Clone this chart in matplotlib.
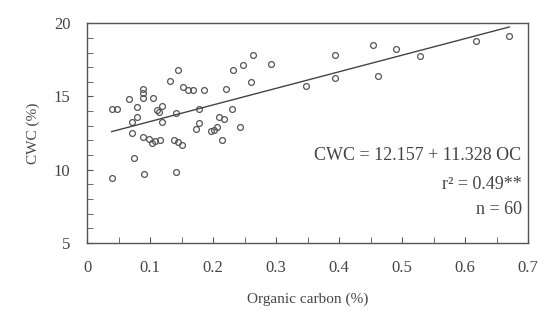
import numpy as np
import matplotlib
matplotlib.use("Agg")
import matplotlib.pyplot as plt
from matplotlib.ticker import MultipleLocator

# organic carbon (%) and CWC (%)
organic_carbon = [
    0.039, 0.048, 0.039, 0.067, 0.080, 0.080, 0.071, 0.071, 0.088, 0.088,
    0.088, 0.104, 0.089, 0.074, 0.091, 0.111, 0.119, 0.114, 0.119, 0.103,
    0.108, 0.115, 0.132, 0.144, 0.141, 0.138, 0.145, 0.151, 0.141, 0.153,
    0.168, 0.186, 0.177, 0.178, 0.173, 0.196, 0.206, 0.210, 0.218, 0.214,
    0.221, 0.230, 0.243, 0.232, 0.247, 0.263, 0.260, 0.292, 0.348, 0.393,
    0.393, 0.454, 0.462, 0.490, 0.528, 0.617, 0.670, 0.099, 0.160, 0.201,
]
cwc = [
    14.14, 14.14, 9.42, 14.84, 14.28, 13.63, 13.25, 12.50, 15.51, 15.23,
    14.89, 14.89, 12.22, 10.79, 9.72, 14.09, 14.32, 13.95, 13.25, 11.81,
    11.99, 12.04, 16.07, 16.82, 13.87, 12.04, 11.86, 11.70, 9.87, 15.68,
    15.41, 15.41, 14.16, 13.22, 12.77, 12.61, 12.91, 13.63, 13.46, 12.04,
    15.53, 14.16, 12.91, 16.82, 17.17, 17.80, 15.96, 17.19, 15.73, 17.85,
    16.26, 18.53, 16.37, 18.26, 17.73, 18.81, 19.10, 12.10, 15.45, 12.70,
]

x_ticks = [0, 0.1, 0.2, 0.3, 0.4, 0.5, 0.6, 0.7]
x_tick_labels = ["0", "0.1", "0.2", "0.3", "0.4", "0.5", "0.6", "0.7"]
y_ticks = [5, 10, 15, 20]

intercept = 12.157
slope = 11.328

plt.rcParams["font.family"] = ["Liberation Serif", "DejaVu Serif"]

fig = plt.figure(figsize=(5.44, 3.23), dpi=100)
ax = fig.add_axes([0.16, 0.248, 0.811, 0.68])

ax.plot(organic_carbon, cwc, linestyle="none", marker="o", markersize=4.2,
        markerfacecolor="none", markeredgecolor="#555555", markeredgewidth=0.9)

xs = np.linspace(min(organic_carbon), max(organic_carbon), 50)
ax.plot(xs, intercept + slope * xs, color="#444444", linewidth=1.0)

ax.set_xticks(x_ticks)
ax.set_xticklabels(x_tick_labels)
ax.set_yticks(y_ticks)
ax.xaxis.set_minor_locator(MultipleLocator(0.05))
ax.yaxis.set_minor_locator(MultipleLocator(1))
ax.set_xlim(0, 0.7)
ax.set_ylim(5, 20)
ax.tick_params(which="both", direction="in", top=False, right=False,
               colors="#555555", labelcolor="#444444", labelsize=12, pad=12)
ax.tick_params(which="major", length=4)
ax.tick_params(which="minor", length=4)

for s in ax.spines.values():
    s.set_color("#555555")
    s.set_linewidth(1.0)

ax.set_xlabel("Organic carbon (%)", fontsize=11, color="#444444", labelpad=12)
ax.set_ylabel("CWC (%)", fontsize=11, color="#444444", labelpad=10)

ax.text(0.985, 0.40, "CWC = 12.157 + 11.328 OC", transform=ax.transAxes,
        ha="right", va="center", fontsize=13, color="#444444")
ax.text(0.985, 0.265, "r\u00b2 = 0.49**", transform=ax.transAxes,
        ha="right", va="center", fontsize=13, color="#444444")
ax.text(0.985, 0.15, "n = 60", transform=ax.transAxes,
        ha="right", va="center", fontsize=13, color="#444444")

fig.savefig("out.png", dpi=100)
